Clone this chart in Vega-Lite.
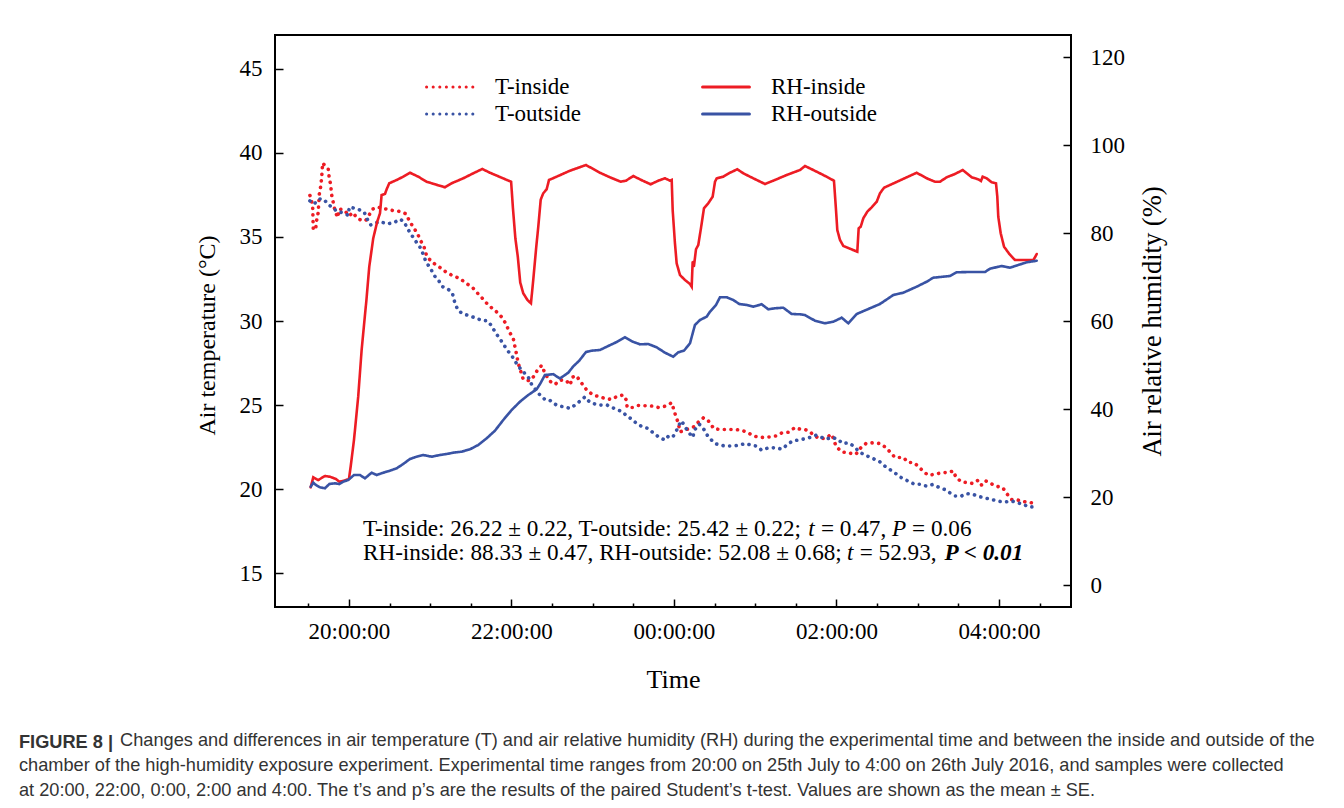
{
  "$schema": "https://vega.github.io/schema/vega-lite/v6.json",
  "width": 796,
  "height": 572,
  "autosize": {"type": "none"},
  "padding": {"left": 275, "top": 35, "right": 273, "bottom": 201},
  "background": "white",
  "title": {
    "text": "FIGURE 8 |",
    "subtitle": [
      "\u200b\u00a0\u00a0\u00a0\u00a0\u00a0\u00a0\u00a0\u00a0\u00a0\u00a0\u00a0\u00a0\u00a0\u00a0\u00a0\u00a0\u00a0\u00a0\u00a0\u00a0Changes and differences in air temperature (T) and air relative humidity (RH) during the experimental time and between the inside and outside of the",
      "chamber of the high-humidity exposure experiment. Experimental time ranges from 20:00 on 25th July to 4:00 on 26th July 2016, and samples were collected",
      "at 20:00, 22:00, 0:00, 2:00 and 4:00. The t’s and p’s are the results of the paired Student’s t-test. Values are shown as the mean ± SE."
    ],
    "orient": "bottom",
    "anchor": "start",
    "dx": -176,
    "offset": 42,
    "font": "Liberation Sans",
    "fontSize": 18.2,
    "fontWeight": "bold",
    "color": "#333333",
    "subtitleFont": "Liberation Sans",
    "subtitleFontSize": 18.2,
    "subtitleColor": "#333333",
    "subtitleLineHeight": 25,
    "subtitlePadding": -20.5
  },
  "datasets": {
    "tin": [{"time":19.52,"value":37.46},{"time":19.553,"value":36.9},{"time":19.561,"value":35.42},{"time":19.59,"value":35.46},{"time":19.602,"value":35.97},{"time":19.622,"value":36.45},{"time":19.634,"value":37.5},{"time":19.652,"value":37.99},{"time":19.664,"value":38.49},{"time":19.676,"value":39.39},{"time":19.705,"value":39.23},{"time":19.745,"value":39.03},{"time":19.758,"value":38.49},{"time":19.775,"value":38.1},{"time":19.787,"value":37.5},{"time":19.807,"value":37.04},{"time":19.828,"value":36.55},{"time":19.861,"value":36.15},{"time":19.881,"value":36.65},{"time":19.938,"value":36.61},{"time":20.004,"value":36.25},{"time":20.046,"value":36.45},{"time":20.102,"value":36.11},{"time":20.144,"value":36.01},{"time":20.206,"value":35.97},{"time":20.242,"value":36.25},{"time":20.292,"value":36.65},{"time":20.348,"value":36.77},{"time":20.443,"value":36.67},{"time":20.538,"value":36.57},{"time":20.628,"value":36.51},{"time":20.702,"value":36.37},{"time":20.742,"value":35.97},{"time":20.791,"value":35.58},{"time":20.841,"value":35.22},{"time":20.882,"value":34.78},{"time":20.923,"value":34.42},{"time":20.956,"value":33.87},{"time":21.018,"value":33.51},{"time":21.079,"value":33.32},{"time":21.141,"value":33.11},{"time":21.202,"value":32.88},{"time":21.284,"value":32.68},{"time":21.366,"value":32.52},{"time":21.468,"value":32.16},{"time":21.53,"value":31.94},{"time":21.591,"value":31.61},{"time":21.653,"value":31.29},{"time":21.714,"value":30.95},{"time":21.776,"value":30.71},{"time":21.838,"value":30.46},{"time":21.892,"value":30.16},{"time":21.938,"value":29.76},{"time":21.973,"value":29.36},{"time":22.022,"value":28.97},{"time":22.043,"value":28.47},{"time":22.064,"value":27.98},{"time":22.084,"value":27.48},{"time":22.145,"value":26.53},{"time":22.219,"value":26.45},{"time":22.268,"value":26.67},{"time":22.32,"value":27.08},{"time":22.372,"value":27.36},{"time":22.412,"value":26.9},{"time":22.465,"value":26.45},{"time":22.535,"value":26.23},{"time":22.601,"value":26.49},{"time":22.671,"value":26.47},{"time":22.724,"value":26.2},{"time":22.745,"value":26.65},{"time":22.798,"value":26.75},{"time":22.843,"value":26.44},{"time":22.933,"value":25.85},{"time":23.007,"value":25.6},{"time":23.089,"value":25.49},{"time":23.163,"value":25.38},{"time":23.233,"value":25.34},{"time":23.307,"value":25.54},{"time":23.376,"value":25.6},{"time":23.409,"value":25.34},{"time":23.425,"value":24.86},{"time":23.492,"value":24.86},{"time":23.561,"value":24.98},{"time":23.615,"value":24.96},{"time":23.671,"value":24.96},{"time":23.738,"value":24.94},{"time":23.807,"value":24.86},{"time":23.898,"value":24.94},{"time":23.972,"value":25.14},{"time":24.0,"value":24.7},{"time":24.025,"value":24.3},{"time":24.053,"value":23.95},{"time":24.074,"value":23.41},{"time":24.135,"value":23.51},{"time":24.188,"value":23.61},{"time":24.246,"value":23.71},{"time":24.304,"value":24.01},{"time":24.361,"value":24.24},{"time":24.41,"value":24.15},{"time":24.452,"value":23.87},{"time":24.492,"value":23.59},{"time":24.587,"value":23.55},{"time":24.681,"value":23.55},{"time":24.751,"value":23.55},{"time":24.833,"value":23.51},{"time":24.914,"value":23.35},{"time":24.988,"value":23.15},{"time":25.079,"value":23.08},{"time":25.173,"value":23.11},{"time":25.255,"value":23.17},{"time":25.326,"value":23.35},{"time":25.409,"value":23.39},{"time":25.489,"value":23.67},{"time":25.551,"value":23.57},{"time":25.612,"value":23.55},{"time":25.674,"value":23.41},{"time":25.735,"value":23.15},{"time":25.797,"value":23.02},{"time":25.858,"value":23.02},{"time":25.941,"value":23.27},{"time":25.961,"value":23.02},{"time":25.994,"value":22.56},{"time":26.064,"value":22.22},{"time":26.145,"value":22.16},{"time":26.24,"value":22.08},{"time":26.289,"value":22.42},{"time":26.363,"value":22.72},{"time":26.446,"value":22.76},{"time":26.535,"value":22.72},{"time":26.609,"value":22.48},{"time":26.72,"value":21.89},{"time":26.822,"value":21.89},{"time":26.884,"value":21.59},{"time":26.945,"value":21.59},{"time":27.007,"value":21.37},{"time":27.061,"value":21.09},{"time":27.13,"value":20.83},{"time":27.212,"value":20.89},{"time":27.302,"value":20.99},{"time":27.376,"value":20.99},{"time":27.438,"value":21.09},{"time":27.471,"value":20.7},{"time":27.541,"value":20.43},{"time":27.61,"value":20.4},{"time":27.676,"value":20.34},{"time":27.745,"value":20.54},{"time":27.787,"value":20.24},{"time":27.84,"value":20.49},{"time":27.898,"value":20.34},{"time":27.963,"value":20.18},{"time":28.045,"value":20.1},{"time":28.095,"value":19.74},{"time":28.156,"value":19.39},{"time":28.237,"value":19.35},{"time":28.332,"value":19.24},{"time":28.422,"value":19.18}],
    "tout": [{"time":19.52,"value":37.14},{"time":19.573,"value":36.96},{"time":19.631,"value":37.26},{"time":19.692,"value":37.24},{"time":19.745,"value":36.9},{"time":19.799,"value":36.77},{"time":19.849,"value":36.51},{"time":19.91,"value":36.45},{"time":19.991,"value":36.29},{"time":20.004,"value":36.77},{"time":20.062,"value":36.71},{"time":20.127,"value":36.61},{"time":20.188,"value":36.47},{"time":20.23,"value":36.01},{"time":20.267,"value":35.71},{"time":20.32,"value":35.82},{"time":20.382,"value":35.91},{"time":20.471,"value":35.77},{"time":20.554,"value":35.85},{"time":20.628,"value":36.05},{"time":20.677,"value":35.91},{"time":20.722,"value":35.48},{"time":20.772,"value":35.1},{"time":20.825,"value":34.72},{"time":20.874,"value":34.39},{"time":20.914,"value":33.97},{"time":20.948,"value":33.51},{"time":21.006,"value":33.11},{"time":21.046,"value":32.72},{"time":21.099,"value":32.44},{"time":21.153,"value":32.04},{"time":21.222,"value":31.89},{"time":21.276,"value":31.59},{"time":21.305,"value":31.05},{"time":21.345,"value":30.61},{"time":21.407,"value":30.42},{"time":21.489,"value":30.3},{"time":21.572,"value":30.16},{"time":21.643,"value":30.02},{"time":21.702,"value":30.02},{"time":21.756,"value":29.71},{"time":21.803,"value":29.3},{"time":21.854,"value":28.97},{"time":21.904,"value":28.6},{"time":21.953,"value":28.24},{"time":22.006,"value":27.92},{"time":22.059,"value":27.5},{"time":22.113,"value":27.14},{"time":22.164,"value":26.89},{"time":22.209,"value":26.64},{"time":22.249,"value":26.22},{"time":22.302,"value":25.89},{"time":22.359,"value":25.55},{"time":22.412,"value":25.34},{"time":22.465,"value":25.32},{"time":22.523,"value":25.08},{"time":22.588,"value":24.94},{"time":22.656,"value":24.9},{"time":22.72,"value":24.8},{"time":22.782,"value":25.0},{"time":22.843,"value":25.24},{"time":22.905,"value":25.49},{"time":22.958,"value":25.2},{"time":23.028,"value":25.06},{"time":23.089,"value":25.0},{"time":23.179,"value":25.0},{"time":23.246,"value":24.84},{"time":23.314,"value":24.7},{"time":23.369,"value":24.6},{"time":23.418,"value":24.35},{"time":23.487,"value":24.15},{"time":23.548,"value":23.87},{"time":23.615,"value":23.71},{"time":23.684,"value":23.61},{"time":23.745,"value":23.35},{"time":23.819,"value":23.08},{"time":23.889,"value":22.92},{"time":23.942,"value":23.21},{"time":23.991,"value":23.15},{"time":24.033,"value":23.51},{"time":24.065,"value":23.85},{"time":24.095,"value":24.07},{"time":24.135,"value":23.71},{"time":24.176,"value":23.41},{"time":24.23,"value":23.08},{"time":24.258,"value":23.55},{"time":24.311,"value":23.87},{"time":24.369,"value":23.55},{"time":24.422,"value":23.11},{"time":24.505,"value":22.72},{"time":24.566,"value":22.62},{"time":24.649,"value":22.56},{"time":24.738,"value":22.58},{"time":24.812,"value":22.62},{"time":24.874,"value":22.72},{"time":24.956,"value":22.62},{"time":25.018,"value":22.56},{"time":25.079,"value":22.32},{"time":25.161,"value":22.46},{"time":25.264,"value":22.46},{"time":25.326,"value":22.38},{"time":25.387,"value":22.62},{"time":25.461,"value":22.88},{"time":25.53,"value":22.92},{"time":25.633,"value":23.02},{"time":25.695,"value":23.11},{"time":25.748,"value":23.21},{"time":25.818,"value":23.08},{"time":25.879,"value":22.99},{"time":25.941,"value":23.08},{"time":26.01,"value":22.99},{"time":26.076,"value":22.72},{"time":26.145,"value":22.76},{"time":26.215,"value":22.56},{"time":26.268,"value":22.28},{"time":26.33,"value":22.08},{"time":26.404,"value":21.92},{"time":26.474,"value":21.77},{"time":26.535,"value":21.62},{"time":26.597,"value":21.37},{"time":26.658,"value":21.17},{"time":26.72,"value":20.97},{"time":26.782,"value":20.73},{"time":26.843,"value":20.58},{"time":26.905,"value":20.43},{"time":26.966,"value":20.28},{"time":27.028,"value":20.3},{"time":27.11,"value":20.18},{"time":27.184,"value":20.28},{"time":27.265,"value":20.1},{"time":27.335,"value":19.98},{"time":27.397,"value":19.78},{"time":27.458,"value":19.6},{"time":27.529,"value":19.58},{"time":27.603,"value":19.74},{"time":27.676,"value":19.7},{"time":27.745,"value":19.58},{"time":27.828,"value":19.48},{"time":27.91,"value":19.39},{"time":27.991,"value":19.29},{"time":28.074,"value":19.24},{"time":28.156,"value":19.3},{"time":28.237,"value":19.18},{"time":28.299,"value":19.11},{"time":28.36,"value":18.95},{"time":28.455,"value":18.95}],
    "rhin": [{"time":19.529,"value":22.2},{"time":19.561,"value":24.48},{"time":19.622,"value":23.86},{"time":19.705,"value":24.77},{"time":19.766,"value":24.61},{"time":19.84,"value":24.09},{"time":19.881,"value":23.48},{"time":19.938,"value":23.7},{"time":20.0,"value":24.09},{"time":20.021,"value":26.89},{"time":20.062,"value":32.95},{"time":20.114,"value":42.8},{"time":20.156,"value":53.41},{"time":20.215,"value":64.77},{"time":20.25,"value":72.34},{"time":20.299,"value":78.8},{"time":20.348,"value":82.57},{"time":20.382,"value":84.48},{"time":20.402,"value":88.64},{"time":20.443,"value":88.86},{"time":20.464,"value":89.93},{"time":20.496,"value":91.3},{"time":20.587,"value":92.05},{"time":20.668,"value":92.8},{"time":20.751,"value":93.7},{"time":20.853,"value":92.8},{"time":20.956,"value":91.66},{"time":21.058,"value":91.07},{"time":21.182,"value":90.39},{"time":21.264,"value":91.3},{"time":21.407,"value":92.43},{"time":21.53,"value":93.57},{"time":21.641,"value":94.55},{"time":21.735,"value":93.7},{"time":21.858,"value":92.73},{"time":21.996,"value":91.64},{"time":22.018,"value":85.68},{"time":22.048,"value":78.8},{"time":22.078,"value":74.61},{"time":22.108,"value":68.75},{"time":22.145,"value":66.3},{"time":22.197,"value":64.77},{"time":22.24,"value":64.02},{"time":22.268,"value":69.32},{"time":22.304,"value":76.59},{"time":22.33,"value":81.43},{"time":22.36,"value":87.57},{"time":22.391,"value":89.02},{"time":22.433,"value":89.93},{"time":22.462,"value":92.05},{"time":22.556,"value":92.8},{"time":22.72,"value":94.16},{"time":22.917,"value":95.45},{"time":23.089,"value":93.7},{"time":23.212,"value":92.66},{"time":23.344,"value":91.66},{"time":23.409,"value":91.89},{"time":23.499,"value":92.95},{"time":23.615,"value":91.89},{"time":23.713,"value":91.07},{"time":23.807,"value":91.89},{"time":23.889,"value":92.43},{"time":23.951,"value":91.89},{"time":23.972,"value":92.05},{"time":23.984,"value":85.23},{"time":24.012,"value":77.66},{"time":24.033,"value":73.11},{"time":24.074,"value":70.45},{"time":24.135,"value":69.32},{"time":24.197,"value":68.41},{"time":24.218,"value":67.8},{"time":24.23,"value":73.48},{"time":24.246,"value":72.5},{"time":24.271,"value":76.3},{"time":24.299,"value":77.27},{"time":24.332,"value":81.07},{"time":24.369,"value":85.61},{"time":24.422,"value":86.75},{"time":24.476,"value":88.25},{"time":24.505,"value":91.66},{"time":24.526,"value":92.43},{"time":24.607,"value":92.8},{"time":24.689,"value":93.7},{"time":24.779,"value":94.48},{"time":24.853,"value":93.57},{"time":24.976,"value":92.43},{"time":25.12,"value":91.14},{"time":25.222,"value":91.89},{"time":25.387,"value":93.18},{"time":25.551,"value":94.32},{"time":25.612,"value":95.23},{"time":25.714,"value":94.32},{"time":25.838,"value":93.18},{"time":25.969,"value":91.89},{"time":25.994,"value":85.23},{"time":26.01,"value":80.68},{"time":26.043,"value":78.41},{"time":26.084,"value":77.05},{"time":26.166,"value":76.43},{"time":26.256,"value":75.75},{"time":26.273,"value":81.07},{"time":26.298,"value":81.43},{"time":26.33,"value":83.34},{"time":26.379,"value":84.84},{"time":26.433,"value":85.84},{"time":26.495,"value":87.11},{"time":26.535,"value":89.02},{"time":26.585,"value":90.3},{"time":26.72,"value":91.43},{"time":26.864,"value":92.66},{"time":26.987,"value":93.7},{"time":27.11,"value":92.43},{"time":27.212,"value":91.66},{"time":27.274,"value":91.66},{"time":27.356,"value":92.66},{"time":27.458,"value":93.41},{"time":27.553,"value":94.32},{"time":27.603,"value":93.57},{"time":27.664,"value":92.66},{"time":27.745,"value":92.2},{"time":27.778,"value":91.82},{"time":27.799,"value":92.8},{"time":27.848,"value":92.43},{"time":27.91,"value":91.52},{"time":27.963,"value":91.3},{"time":27.979,"value":88.25},{"time":27.991,"value":83.7},{"time":28.021,"value":79.93},{"time":28.062,"value":76.89},{"time":28.127,"value":75.23},{"time":28.197,"value":73.86},{"time":28.341,"value":73.86},{"time":28.422,"value":73.86},{"time":28.443,"value":74.48},{"time":28.464,"value":75.23}],
    "rhout": [{"time":19.529,"value":22.34},{"time":19.561,"value":23.25},{"time":19.594,"value":22.73},{"time":19.643,"value":22.2},{"time":19.705,"value":21.98},{"time":19.758,"value":22.95},{"time":19.828,"value":23.11},{"time":19.881,"value":22.95},{"time":19.93,"value":23.48},{"time":19.991,"value":23.86},{"time":20.062,"value":25.0},{"time":20.135,"value":25.0},{"time":20.197,"value":24.25},{"time":20.279,"value":25.52},{"time":20.341,"value":25.0},{"time":20.422,"value":25.52},{"time":20.505,"value":25.98},{"time":20.587,"value":26.52},{"time":20.668,"value":27.5},{"time":20.751,"value":28.64},{"time":20.833,"value":29.16},{"time":20.914,"value":29.55},{"time":21.018,"value":29.16},{"time":21.12,"value":29.55},{"time":21.202,"value":29.77},{"time":21.284,"value":30.07},{"time":21.387,"value":30.3},{"time":21.489,"value":30.84},{"time":21.591,"value":31.82},{"time":21.695,"value":33.34},{"time":21.797,"value":35.07},{"time":21.899,"value":37.5},{"time":22.002,"value":39.77},{"time":22.105,"value":41.66},{"time":22.207,"value":43.18},{"time":22.31,"value":44.48},{"time":22.357,"value":45.84},{"time":22.412,"value":47.73},{"time":22.514,"value":47.91},{"time":22.597,"value":46.93},{"time":22.699,"value":48.25},{"time":22.761,"value":49.7},{"time":22.834,"value":50.98},{"time":22.917,"value":52.95},{"time":22.987,"value":53.25},{"time":23.089,"value":53.41},{"time":23.191,"value":54.32},{"time":23.295,"value":55.23},{"time":23.397,"value":56.3},{"time":23.492,"value":55.3},{"time":23.582,"value":54.7},{"time":23.684,"value":54.77},{"time":23.787,"value":54.02},{"time":23.889,"value":52.8},{"time":23.991,"value":51.89},{"time":24.053,"value":52.89},{"time":24.123,"value":53.25},{"time":24.197,"value":54.93},{"time":24.258,"value":59.09},{"time":24.32,"value":60.23},{"time":24.402,"value":60.98},{"time":24.443,"value":62.11},{"time":24.517,"value":63.64},{"time":24.566,"value":65.39},{"time":24.649,"value":65.39},{"time":24.73,"value":64.77},{"time":24.804,"value":63.86},{"time":24.895,"value":63.64},{"time":24.976,"value":63.25},{"time":25.079,"value":63.8},{"time":25.161,"value":62.66},{"time":25.243,"value":62.89},{"time":25.345,"value":63.02},{"time":25.449,"value":61.59},{"time":25.551,"value":61.52},{"time":25.612,"value":61.36},{"time":25.735,"value":60.07},{"time":25.858,"value":59.48},{"time":25.961,"value":59.84},{"time":26.064,"value":60.75},{"time":26.145,"value":59.48},{"time":26.249,"value":61.59},{"time":26.412,"value":62.89},{"time":26.535,"value":63.86},{"time":26.699,"value":65.91},{"time":26.822,"value":66.43},{"time":26.987,"value":67.8},{"time":27.11,"value":68.93},{"time":27.191,"value":69.84},{"time":27.397,"value":70.23},{"time":27.479,"value":71.07},{"time":27.643,"value":71.14},{"time":27.828,"value":71.14},{"time":27.889,"value":71.89},{"time":28.033,"value":72.5},{"time":28.135,"value":72.11},{"time":28.237,"value":72.73},{"time":28.341,"value":73.34},{"time":28.464,"value":73.7}],
    "notes": [
      {"line": 1, "time": 20.172, "label": "T-inside: 26.22 ± 0.22, T-outside: 25.42 ± 0.22;", "style": "normal"},
      {"line": 1, "time": 25.652, "label": "t", "style": "italic"},
      {"line": 1, "time": 25.809, "label": "= 0.47,", "style": "normal"},
      {"line": 1, "time": 26.683, "label": "P", "style": "italic"},
      {"line": 1, "time": 26.93, "label": "= 0.06", "style": "normal"},
      {"line": 2, "time": 20.172, "label": "RH-inside: 88.33 ± 0.47, RH-outside: 52.08 ± 0.68;", "style": "normal"},
      {"line": 2, "time": 26.13, "label": "t", "style": "italic"},
      {"line": 2, "time": 26.286, "label": "= 52.93,", "style": "normal"},
      {"line": 2, "time": 27.33, "label": "P < 0.01", "style": "bolditalic"}
    ]
  },
  "layer": [
    {
      "layer": [
        {
          "data": {"name": "tin"},
          "mark": {"type": "line", "strokeWidth": 3.6, "strokeCap": "round"},
          "encoding": {
            "x": {"field": "time", "type": "quantitative", "scale": {"domain": [19.09, 28.886], "nice": false, "zero": false},
              "axis": {"title": "Time", "values": [19.5,20,20.5,21,21.5,22,22.5,23,23.5,24,24.5,25,25.5,26,26.5,27,27.5,28,28.5],
                "labelExpr": "datum.value % 2 === 0 ? ((datum.value % 24) < 10 ? '0' : '') + (datum.value % 24) + ':00:00' : ''",
                "tickSize": {"condition": {"test": "datum.value % 2 === 0", "value": -8}, "value": -4},
                "labelPadding": 21, "titlePadding": 19, "labelOverlap": false, "labelFlush": false}},
            "y": {"field": "value", "type": "quantitative", "scale": {"domain": [13, 47], "nice": false, "zero": false},
              "axis": {"title": "Air temperature (°C)", "titleFontSize": 24, "titleY": 300, "values": [15,20,25,30,35,40,45], "tickSize": -8, "labelPadding": 21, "titlePadding": 20}},
            "color": {"datum": "T-inside", "type": "nominal",
              "scale": {"domain": ["T-inside","T-outside","RH-inside","RH-outside"], "range": ["#ED1C24","#3953A4","#ED1C24","#3953A4"]},
              "legend": {"title": null, "orient": "none", "legendX": 150, "legendY": 40, "columns": 2, "columnPadding": 119, "rowPadding": 3, "clipHeight": 24, "symbolType": "stroke", "symbolSize": 2200, "symbolStrokeWidth": 3, "labelFont": "Liberation Serif", "labelFontSize": 23, "labelColor": "#000", "labelOffset": 20, "encoding": {"symbols": {"strokeCap": {"value": "round"}}}}},
            "strokeDash": {"datum": "T-inside", "type": "nominal",
              "scale": {"domain": ["T-inside","T-outside","RH-inside","RH-outside"], "range": [[0.1,6.5],[0.1,6.5],[1,0],[1,0]]},
              "legend": {"title": null, "orient": "none", "legendX": 150, "legendY": 40, "columns": 2, "columnPadding": 119, "rowPadding": 3, "clipHeight": 24, "symbolType": "stroke", "symbolSize": 2200, "symbolStrokeWidth": 3, "labelFont": "Liberation Serif", "labelFontSize": 23, "labelColor": "#000", "labelOffset": 20, "encoding": {"symbols": {"strokeCap": {"value": "round"}}}}}
          }
        },
        {
          "data": {"name": "tout"},
          "mark": {"type": "line", "strokeWidth": 3.6, "strokeCap": "round"},
          "encoding": {
            "x": {"field": "time", "type": "quantitative"},
            "y": {"field": "value", "type": "quantitative"},
            "color": {"datum": "T-outside", "type": "nominal"},
            "strokeDash": {"datum": "T-outside", "type": "nominal"}
          }
        },
        {
          "data": {"name": "notes"},
          "transform": [{"filter": "datum.line === 1 && datum.style === 'normal'"}],
          "mark": {"type": "text", "align": "left", "baseline": "middle", "font": "Liberation Serif", "fontSize": 23.2, "color": "#000"},
          "encoding": {
            "x": {"field": "time", "type": "quantitative"},
            "y": {"datum": 17.62, "type": "quantitative"},
            "text": {"field": "label"}
          }
        },
        {
          "data": {"name": "notes"},
          "transform": [{"filter": "datum.line === 1 && datum.style === 'italic'"}],
          "mark": {"type": "text", "align": "left", "baseline": "middle", "font": "Liberation Serif", "fontSize": 23.2, "fontStyle": "italic", "color": "#000"},
          "encoding": {
            "x": {"field": "time", "type": "quantitative"},
            "y": {"datum": 17.62, "type": "quantitative"},
            "text": {"field": "label"}
          }
        },
        {
          "data": {"name": "notes"},
          "transform": [{"filter": "datum.line === 2 && datum.style === 'normal'"}],
          "mark": {"type": "text", "align": "left", "baseline": "middle", "font": "Liberation Serif", "fontSize": 23.2, "color": "#000"},
          "encoding": {
            "x": {"field": "time", "type": "quantitative"},
            "y": {"datum": 16.19, "type": "quantitative"},
            "text": {"field": "label"}
          }
        },
        {
          "data": {"name": "notes"},
          "transform": [{"filter": "datum.line === 2 && datum.style === 'italic'"}],
          "mark": {"type": "text", "align": "left", "baseline": "middle", "font": "Liberation Serif", "fontSize": 23.2, "fontStyle": "italic", "color": "#000"},
          "encoding": {
            "x": {"field": "time", "type": "quantitative"},
            "y": {"datum": 16.19, "type": "quantitative"},
            "text": {"field": "label"}
          }
        },
        {
          "data": {"name": "notes"},
          "transform": [{"filter": "datum.line === 2 && datum.style === 'bolditalic'"}],
          "mark": {"type": "text", "align": "left", "baseline": "middle", "font": "Liberation Serif", "fontSize": 23.2, "fontStyle": "italic", "fontWeight": "bold", "color": "#000"},
          "encoding": {
            "x": {"field": "time", "type": "quantitative"},
            "y": {"datum": 16.19, "type": "quantitative"},
            "text": {"field": "label"}
          }
        }
      ]
    },
    {
      "layer": [
        {
          "data": {"name": "rhin"},
          "mark": {"type": "line", "strokeWidth": 2.6, "strokeCap": "round"},
          "encoding": {
            "x": {"field": "time", "type": "quantitative"},
            "y": {"field": "value", "type": "quantitative", "scale": {"domain": [-5, 125], "nice": false, "zero": false},
              "axis": {"orient": "right", "title": "Air relative humidity (%)", "titleFontSize": 26.5, "values": [0,20,40,60,80,100,120], "tickSize": -8, "labelPadding": 27, "titlePadding": 42, "titleAngle": 270}},
            "color": {"datum": "RH-inside", "type": "nominal"},
            "strokeDash": {"datum": "RH-inside", "type": "nominal"}
          }
        },
        {
          "data": {"name": "rhout"},
          "mark": {"type": "line", "strokeWidth": 2.6, "strokeCap": "round"},
          "encoding": {
            "x": {"field": "time", "type": "quantitative"},
            "y": {"field": "value", "type": "quantitative"},
            "color": {"datum": "RH-outside", "type": "nominal"},
            "strokeDash": {"datum": "RH-outside", "type": "nominal"}
          }
        }
      ]
    }
  ],
  "resolve": {"scale": {"y": "independent"}, "axis": {"y": "independent"}},
  "config": {
    "view": {"stroke": "#000", "strokeWidth": 2},
    "axis": {"labelFont": "Liberation Serif", "labelFontSize": 23, "labelColor": "#000", "titleFont": "Liberation Serif", "titleFontSize": 26, "titleFontWeight": "normal", "titleColor": "#000", "domain": false, "grid": false, "tickColor": "#000", "tickWidth": 1.5}
  }
}
